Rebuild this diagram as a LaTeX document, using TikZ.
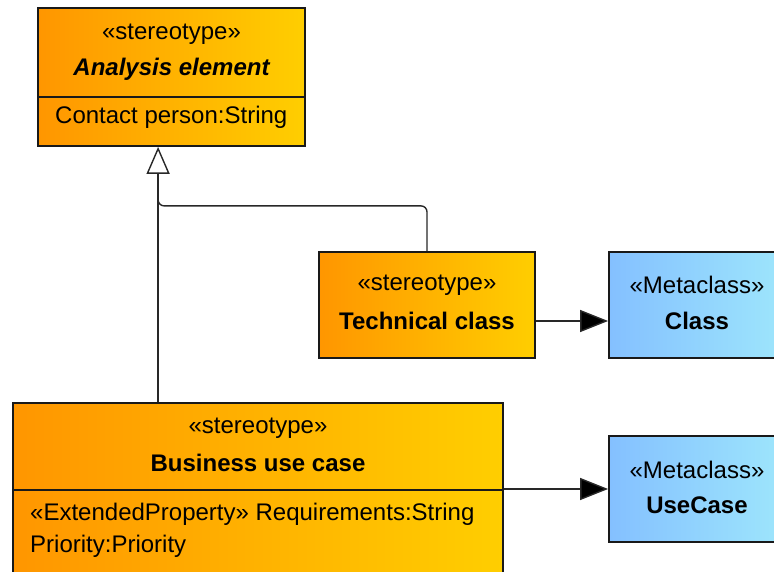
\documentclass[tikz,border=0pt]{standalone}
\usepackage{fontspec}
\setmainfont{Liberation Sans}
\usetikzlibrary{arrows.meta,calc}
\definecolor{orA}{RGB}{255,150,0}
\definecolor{orB}{RGB}{255,206,0}
\definecolor{blA}{RGB}{132,192,255}
\definecolor{blB}{RGB}{158,230,252}
\definecolor{lineC}{RGB}{40,40,40}
\begin{document}
\begin{tikzpicture}[x=1pt,y=-1pt,
  obox/.style={draw=black!90,line width=1.8pt,left color=orA,right color=orB,inner sep=0pt},
  bbox/.style={draw=black!90,line width=1.8pt,left color=blA,right color=blB,inner sep=0pt},
  txt/.style={inner sep=0pt,font=\fontsize{24}{28}\selectfont},
  btxt/.style={txt,font=\fontsize{24}{28}\selectfont\bfseries},
  ltxt/.style={txt,anchor=west},
  div/.style={draw=black!90,line width=1.6pt},
  conn/.style={draw=lineC,line width=1.4pt},
  real/.style={conn,-{Triangle[length=28pt,width=22pt,fill=black]}},
  gen/.style={conn,-{Triangle[open,length=27pt,width=23pt,fill=white]}}
]
\useasboundingbox (0,0) rectangle (774,572);

% Analysis element
\node[obox,minimum width=267pt,minimum height=138pt] (ana) at (171.5,77) {};
\node[txt] (anaS) at (171.5,34) {«stereotype»};
\node[btxt,font=\fontsize{24}{28}\selectfont\bfseries\itshape] (anaN) at (171.5,69) {Analysis element};
\draw[div] (ana.west |- 0,97) -- (ana.east |- 0,97);
\node[ltxt] (anaA) at (55,117) {Contact person:String};

% Technical class
\node[obox,minimum width=216pt,minimum height=106pt] (tech) at (427,305) {};
\node[txt] (techS) at (427,285) {«stereotype»};
\node[btxt] (techN) at (427,321) {Technical class};

% Class metaclass
\node[bbox,minimum width=176pt,minimum height=106pt] (cls) at (697,305) {};
\node[txt] (clsS) at (697,285) {«Metaclass»};
\node[btxt] (clsN) at (697,321) {Class};

% Business use case
\node[obox,minimum width=490pt,minimum height=197pt] (biz) at (258,501.5) {};
\node[txt] (bizS) at (258,428) {«stereotype»};
\node[btxt] (bizN) at (258,463) {Business use case};
\draw[div] (biz.west |- 0,490) -- (biz.east |- 0,490);
\node[ltxt] (bizA1) at (30,514) {«ExtendedProperty» Requirements:String};
\node[ltxt] (bizA2) at (30,546) {Priority:Priority};

% UseCase metaclass
\node[bbox,minimum width=176pt,minimum height=106pt] (uc) at (697,489) {};
\node[txt] (ucS) at (697,470) {«Metaclass»};
\node[btxt] (ucN) at (697,505) {UseCase};

% Connectors
\coordinate (g) at ([xshift=121pt]ana.south west);
\coordinate (gj) at ([yshift=-59pt]g);
\coordinate (gu) at ([yshift=-45pt]g);
\draw[gen] (biz.north -| g) -- (g);
\draw[conn,rounded corners=6pt] (tech.north) |- (gj) -- (gu);
\draw[real] (tech.east |- 0,321) -- (cls.west |- 0,321);
\draw[real] (biz.east |- 0,489) -- (uc.west);
\end{tikzpicture}
\end{document}
